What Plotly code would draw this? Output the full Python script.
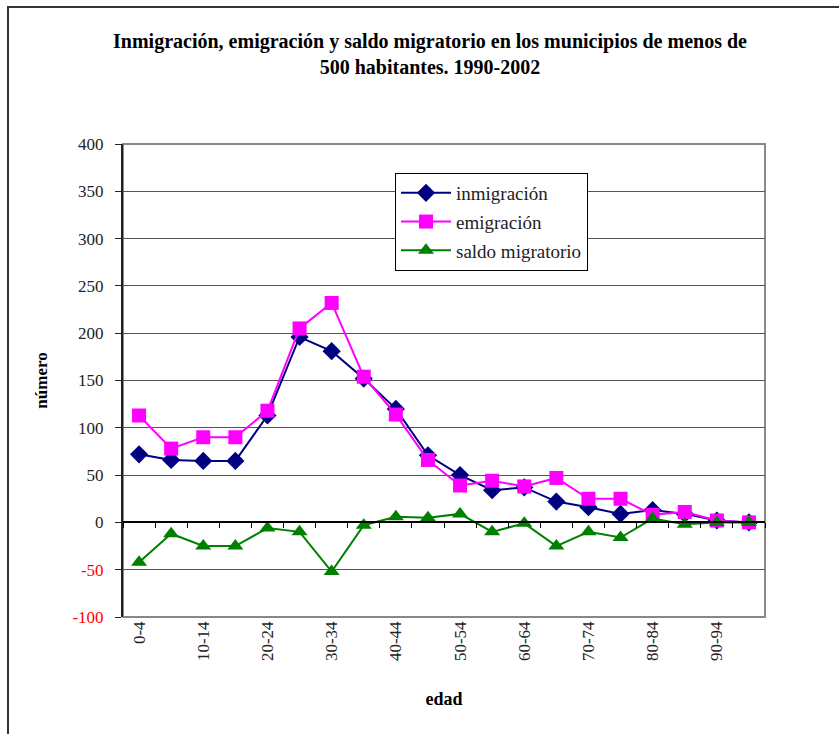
import plotly.graph_objects as go

categorias = ["0-4", "5-9", "10-14", "15-19", "20-24", "25-29", "30-34", "35-39",
              "40-44", "45-49", "50-54", "55-59", "60-64", "65-69", "70-74", "75-79",
              "80-84", "85-89", "90-94", "95-99"]
inmigracion = [72, 66, 65, 65, 113, 196, 181, 152, 120, 71, 50, 34, 37, 22, 16, 9, 13, 9, 2, 0]
emigracion = [113, 78, 90, 90, 118, 205, 232, 154, 114, 66, 39, 44, 38, 47, 25, 25, 8, 11, 2, 0]
saldo = [-42, -12, -25, -25, -6, -10, -52, -3, 6, 5, 9, -10, -1, -25, -10, -16, 4, -2, 0, 0]

ytick_vals = [-100, -50, 0, 50, 100, 150, 200, 250, 300, 350, 400]
ytick_text = [("<span style='color:#ff0000'>%d</span>" % v) if v < 0 else str(v) for v in ytick_vals]

xi = list(range(len(categorias)))
serif = "Liberation Serif"

fig = go.Figure()
fig.add_trace(go.Scatter(x=xi, y=inmigracion, name="inmigración", mode="lines+markers",
                         legendgroup="a",
                         line=dict(color="#000080", width=2),
                         marker=dict(symbol="diamond", size=14, color="#000080")))
fig.add_trace(go.Scatter(x=xi, y=emigracion, name="emigración", mode="lines+markers",
                         legendgroup="b",
                         line=dict(color="#ff00ff", width=2),
                         marker=dict(symbol="square", size=14, color="#ff00ff")))
fig.add_trace(go.Scatter(x=xi, y=saldo, name="saldo migratorio", mode="lines+markers",
                         legendgroup="c",
                         line=dict(color="#008000", width=2),
                         marker=dict(symbol="triangle-up", size=14, color="#008000")))
# invisible trace to carry the zero-crossing category axis
fig.add_trace(go.Scatter(x=xi, y=[0] * len(xi), xaxis="x2", yaxis="y", mode="lines",
                         line=dict(width=0), showlegend=False, hoverinfo="skip"))

W, H = 839, 734
ml, mr, mt, mb = 123, 74, 144, 117
pw = W - ml - mr
ph = H - mt - mb

zero_pos = (0 - (-100)) / 500.0

fig.update_layout(
    width=W, height=H,
    margin=dict(l=ml, r=mr, t=mt, b=mb, autoexpand=False),
    paper_bgcolor="white", plot_bgcolor="white",
    font=dict(family=serif, size=17, color="#222"),
    title=dict(text="<b>Inmigración, emigración y saldo migratorio en los municipios de menos de<br>500 habitantes. 1990-2002</b>",
               x=430 / W, xanchor="center", y=1 - 48 / H, yanchor="middle",
               font=dict(family=serif, size=20, color="#000")),
    xaxis=dict(range=[-0.5, len(categorias) - 0.5], tickmode="array",
               tickvals=xi[::2], ticktext=categorias[::2], tickangle=-90,
               showgrid=False, zeroline=False, showline=False, ticks="",
               tickfont=dict(family=serif, size=17, color="#222"),
               title=dict(text="<b>edad</b>", font=dict(family=serif, size=18, color="#000"), standoff=32)),
    xaxis2=dict(range=[-0.5, len(categorias) - 0.5], overlaying="x", anchor="free",
                position=zero_pos, showline=True, linecolor="#000", linewidth=1.5,
                tickmode="array", tickvals=[i + 0.5 for i in range(-1, len(categorias))],
                ticks="outside", ticklen=5, tickcolor="#000", tickwidth=1,
                showticklabels=False, showgrid=False, zeroline=False, side="bottom"),
    yaxis=dict(range=[-100, 400], tickmode="array", tickvals=ytick_vals, ticktext=ytick_text,
               showgrid=True, gridcolor="#555", gridwidth=1, zeroline=False,
               showline=True, linecolor="#222", linewidth=2, ticks="outside", ticklen=6,
               tickcolor="#222", ticklabelstandoff=8,
               tickfont=dict(family=serif, size=17, color="#222"),
               title=dict(text="<b>número</b>", font=dict(family=serif, size=17, color="#000"), standoff=20)),
    legend=dict(x=(395 - ml) / pw, y=(H - mb - 173) / ph, xanchor="left", yanchor="top",
                bgcolor="white", bordercolor="#000", borderwidth=1,
                font=dict(family=serif, size=19, color="#222"), tracegroupgap=1,
                itemwidth=50),
    shapes=[
        dict(type="rect", xref="paper", yref="paper", x0=0, x1=1, y0=0, y1=1,
             line=dict(color="#888", width=2), layer="below"),
        dict(type="rect", xref="paper", yref="paper",
             x0=(8 - ml) / pw, x1=(W + 10 - ml) / pw,
             y0=(H - mb - (H + 10)) / ph, y1=(H - mb - 7) / ph,
             line=dict(color="#333", width=2), layer="below"),
    ],
)

fig.write_html("out.html", config={"displayModeBar": False},
               post_script="document.body.style.margin='0';document.body.style.overflow='hidden';")
